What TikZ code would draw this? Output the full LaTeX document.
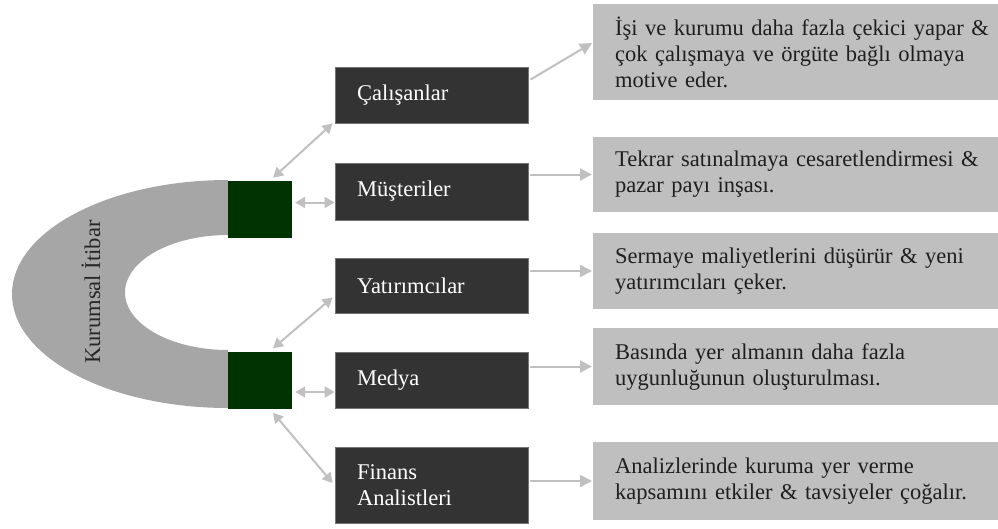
\documentclass[tikz,border=0pt]{standalone}
\usepackage{fontspec}
\setmainfont{Liberation Serif}
\usetikzlibrary{arrows.meta}
\definecolor{boxdark}{HTML}{333333}
\definecolor{boxlight}{HTML}{BFBFBF}
\definecolor{horse}{HTML}{A6A6A6}
\definecolor{anchorgreen}{HTML}{013201}
\definecolor{linkgray}{HTML}{C0C0C0}
\begin{document}
\begin{tikzpicture}[x=1pt,y=-1pt,
  txt/.style={font=\fontsize{22.5}{26}\selectfont},
  darkbox/.style={txt, fill=boxdark, draw=black!55, line width=0.8pt, text=white,
    text width=149pt, inner xsep=22pt, inner ysep=0pt, align=left, minimum height=#1},
  darkbox/.default=56pt,
  lightbox/.style={txt, fill=boxlight, text=black!88, text width=400pt,
    inner xsep=22pt, inner ysep=0pt, align=left, anchor=west, minimum height=#1},
  greenbox/.style={fill=anchorgreen, minimum width=64pt, minimum height=57pt, inner sep=0pt},
  conn/.style={draw=linkgray, line width=2pt, -{Triangle[length=12pt,width=12pt]}},
  biconn/.style={draw=linkgray, line width=2pt,
    {Triangle[length=10pt,width=11pt]}-{Triangle[length=10pt,width=11pt]}}
]
\useasboundingbox (0,0) rectangle (998,528);

% horseshoe band
\begin{scope}
  \clip (0,0) rectangle (228,528);
  \fill[horse, even odd rule]
    (228,294) ellipse [x radius=216pt, y radius=114pt]
    (228,292.5) ellipse [x radius=103pt, y radius=57.5pt];
\end{scope}
\node[txt, rotate=90, text=black!85] (title) at (91,292) {Kurumsal İtibar};

% anchors at both ends of the band
\node[greenbox] (sqa) at (260,209.5) {};
\node[greenbox] (sqb) at (260,380) {};

% stakeholder boxes
\node[darkbox] (cal) at (431.5,95) {Çalışanlar};
\node[darkbox=57pt] (mus) at (431.5,191.5) {Müşteriler};
\node[darkbox=55pt] (yat) at (431.5,285.5) {Yatırımcılar};
\node[darkbox] (med) at (431.5,380.5) {Medya};
\node[darkbox=76pt] (fin) at (431.5,485) {Finans\\Analistleri};

% effect boxes
\node[lightbox=96pt] (ga) at (593,52)
  {İşi ve kurumu daha fazla çekici yapar \&\\çok çalışmaya ve örgüte bağlı olmaya\\motive eder.};
\node[lightbox=75pt] (gb) at (593,174.5)
  {Tekrar satınalmaya cesaretlendirmesi \&\\pazar payı inşası.};
\node[lightbox=76pt] (gc) at (593,271)
  {Sermaye maliyetlerini düşürür \& yeni\\yatırımcıları çeker.};
\node[lightbox=77pt] (gd) at (593,366.5)
  {Basında yer almanın daha fazla\\uygunluğunun oluşturulması.};
\node[lightbox=78pt] (ge) at (593,481)
  {Analizlerinde kuruma yer verme\\kapsamını etkiler \& tavsiyeler çoğalır.};

% links between the anchors and the stakeholders
\draw[biconn] ([xshift=13pt,yshift=3pt]sqa.north) -- ([xshift=-2pt]cal.south west);
\draw[biconn] ([xshift=3pt,yshift=7pt]sqa.east) -- ([yshift=7pt]sqa.east -| mus.west);
\draw[biconn] ([xshift=13pt,yshift=3pt]sqb.north) -- ([xshift=-2pt,yshift=16pt]yat.south west);
\draw[biconn] ([xshift=3pt,yshift=-12pt]sqb.east) -- ([yshift=-12pt]sqb.east -| med.west);
\draw[biconn] ([xshift=13pt,yshift=-4pt]sqb.south) -- ([xshift=-2pt,yshift=2pt]fin.west);

% links from the stakeholders to their effects
\draw[conn] ([xshift=2pt,yshift=-13pt]cal.north east) -- ([xshift=-1pt,yshift=9pt]ga.west);
\draw[conn] ([xshift=2pt]mus.east |- gb.west) -- ([xshift=-1pt]gb.west);
\draw[conn] ([xshift=2pt]yat.east |- gc.west) -- ([xshift=-1pt]gc.west);
\draw[conn] ([xshift=2pt]med.east |- gd.west) -- ([xshift=-1pt]gd.west);
\draw[conn] ([xshift=2pt]fin.east |- ge.west) -- ([xshift=-1pt]ge.west);
\end{tikzpicture}
\end{document}
